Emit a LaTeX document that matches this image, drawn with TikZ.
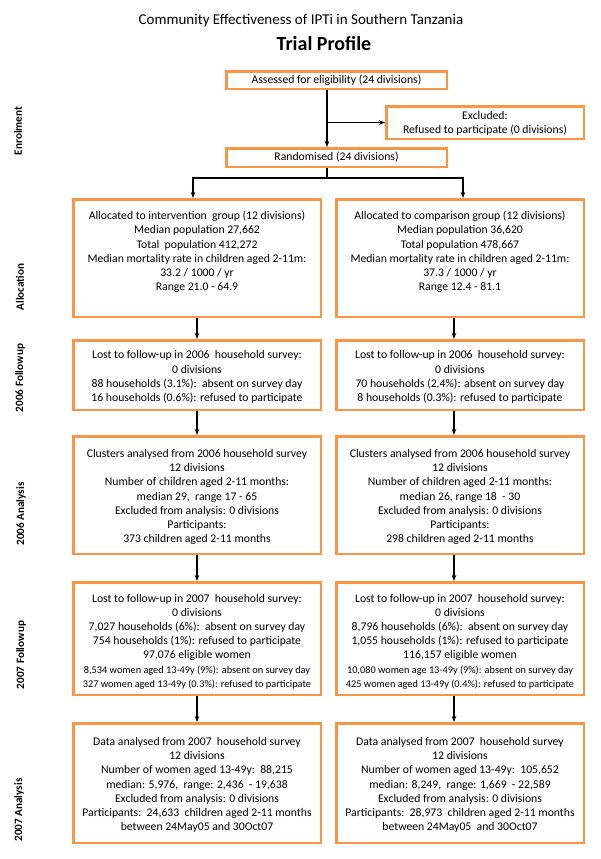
\documentclass[tikz,border=0pt]{standalone}
\usepackage{fontspec}
\setmainfont{Carlito}
\usetikzlibrary{arrows.meta}
\definecolor{boxorange}{HTML}{F79646}
\newcommand{\smalltxt}{\fontsize{10.3}{14}\selectfont}
\tikzset{
  box/.style={draw=boxorange, line width=2.5pt, rectangle, inner sep=0pt, fill=white},
  txt/.style={align=center, font=\fontsize{11.7}{14.2}\selectfont, inner sep=0pt},
  side/.style={rotate=90, font=\fontsize{11.2}{13}\selectfont\bfseries, inner sep=0pt},
  arr/.style={-{Stealth[length=6pt,width=4.5pt]}, line width=1.3pt, black},
  ln/.style={line width=1.3pt, black}
}
\begin{document}
\begin{tikzpicture}[x=1pt,y=-1pt]
\useasboundingbox[fill=white] (0,0) rectangle (600,859);

% titles
\node[font=\fontsize{15}{17}\selectfont, inner sep=0pt] (title) at (301,21) {Community Effectiveness of IPTi in Southern Tanzania};
\node[font=\fontsize{20}{22}\selectfont\bfseries, inner sep=0pt] (subtitle) at (324,44) {Trial Profile};

% side labels
\node[side] (lEnr) at (18,131) {Enrolment};
\node[side] (lAll) at (20,287) {Allocation};
\node[side] (lF06) at (20,378) {2006 Followup};
\node[side] (lA06) at (21,514) {2006 Analysis};
\node[side] (lF07) at (21,655) {2007 Followup};
\node[side] (lA07) at (19,810) {2007 Analysis};

% enrolment boxes
\node[box, minimum width=220.5, minimum height=17.5] (box1) at (336.5,80) {};
\node[txt] at (box1.center) {Assessed for eligibility (24 divisions)};
\node[box, minimum width=197.5, minimum height=32.5] (excl) at (485,122.5) {};
\node[txt] at (485,123) {Excluded:\\Refused to participate (0 divisions)};
\node[box, minimum width=220.5, minimum height=18.5] (rand) at (336.5,157.5) {};
\node[txt] at (rand.center) {Randomised (24 divisions)};

% allocation
\node[box, minimum width=247.5, minimum height=117.5] (allocL) at (197,258) {};
\node[txt] at (197,252) {Allocated to intervention\ \ group (12 divisions)\\Median population 27,662\\Total\ \ population 412,272\\Median mortality rate in children aged 2-11m:\\33.2 / 1000 / yr\\Range 21.0 - 64.9};
\node[box, minimum width=247.5, minimum height=117.5] (allocR) at (460,258) {};
\node[txt] at (460,252) {Allocated to comparison group (12 divisions)\\Median population 36,620\\Total population 478,667\\Median mortality rate in children aged 2-11m:\\37.3 / 1000 / yr\\Range 12.4 - 81.1};

% 2006 followup
\node[box, minimum width=247.5, minimum height=69.5] (fuL) at (197,375) {};
\node[txt] at (197,377) {Lost to follow-up in 2006\ \ household survey:\\0 divisions\\88 households (3.1\%):\ \ absent on survey day\\16 households (0.6\%): refused to participate};
\node[box, minimum width=247.5, minimum height=69.5] (fuR) at (460,375) {};
\node[txt] at (460,377) {Lost to follow-up in 2006\ \ household survey:\\0 divisions\\70 households (2.4\%): absent on survey day\\8 households (0.3\%): refused to participate};

% 2006 analysis
\node[box, minimum width=247.5, minimum height=117.5] (anL) at (197,495) {};
\node[txt] at (197,497) {Clusters analysed from 2006 household survey\\12 divisions\\Number of children aged 2-11 months:\\median 29,\ \ range 17 - 65\\Excluded from analysis: 0 divisions\\Participants:\\373 children aged 2-11 months};
\node[box, minimum width=247.5, minimum height=117.5] (anR) at (460,495) {};
\node[txt] at (460,497) {Clusters analysed from 2006 household survey\\12 divisions\\Number of children aged 2-11 months:\\median 26, range 18\ \ - 30\\Excluded from analysis: 0 divisions\\Participants:\\298 children aged 2-11 months};

% 2007 followup
\node[box, minimum width=247.5, minimum height=112.5] (fu7L) at (197,638.5) {};
\node[txt] at (197,641.5) {Lost to follow-up in 2007\ \ household survey:\\0 divisions\\7,027 households (6\%):\ \ absent on survey day\\754 households (1\%): refused to participate\\97,076 eligible women\\{\smalltxt 8,534 women aged 13-49y (9\%): absent on survey day}\\{\smalltxt 327 women aged 13-49y (0.3\%): refused to participate}};
\node[box, minimum width=247.5, minimum height=112.5] (fu7R) at (460,638.5) {};
\node[txt] at (460,641.5) {Lost to follow-up in 2007\ \ household survey:\\0 divisions\\8,796 households (6\%):\ \ absent on survey day\\1,055 households (1\%): refused to participate\\116,157 eligible women\\{\smalltxt 10,080 women age 13-49y (9\%): absent on survey day}\\{\smalltxt 425 women aged 13-49y (0.4\%): refused to participate}};

% 2007 analysis
\node[box, minimum width=247.5, minimum height=119.5] (an7L) at (197,783) {};
\node[txt] at (197,785) {Data analysed from 2007\ \ household survey\\12 divisions\\Number of women aged 13-49y:\ \ 88,215\\median: 5,976,\ \ range: 2,436\ \ - 19,638\\Excluded from analysis: 0 divisions\\Participants:\ \ 24,633\ \ children aged 2-11 months\\between 24May05 and 30Oct07};
\node[box, minimum width=247.5, minimum height=119.5] (an7R) at (460,783) {};
\node[txt] at (460,785) {Data analysed from 2007\ \ household survey\\12 divisions\\Number of women aged 13-49y:\ \ 105,652\\median: 8,249,\ \ range: 1,669\ \ - 22,589\\Excluded from analysis: 0 divisions\\Participants:\ \ 28,973\ \ children aged 2-11 months\\between 24May05\ \ and 30Oct07};

% connector helper coordinates
\coordinate (vx) at (327,0);
\coordinate (bl) at (193,178);
\coordinate (br) at (463,178);
\coordinate (ra) at (454,0);

% enrolment connectors
\draw[arr] (box1.south -| vx) -- (rand.north -| vx);
\draw[arr] (excl.west -| vx) -- (excl.west);
\draw[ln] (rand.south -| vx) -- (bl -| vx);
\draw[arr] (bl -| vx) -| (allocL.north -| bl);
\draw[arr] (br -| vx) -| (allocR.north -| br);

% left column
\draw[arr] (allocL.south) -- (fuL.north);
\draw[arr] (fuL.south) -- (anL.north);
\draw[arr] (anL.south) -- (fu7L.north);
\draw[arr] (fu7L.south) -- (an7L.north);
% right column
\draw[arr] (allocR.south -| ra) -- (fuR.north -| ra);
\draw[arr] (fuR.south -| ra) -- (anR.north -| ra);
\draw[arr] (anR.south -| ra) -- (fu7R.north -| ra);
\draw[arr] (fu7R.south -| ra) -- (an7R.north -| ra);
\end{tikzpicture}
\end{document}
